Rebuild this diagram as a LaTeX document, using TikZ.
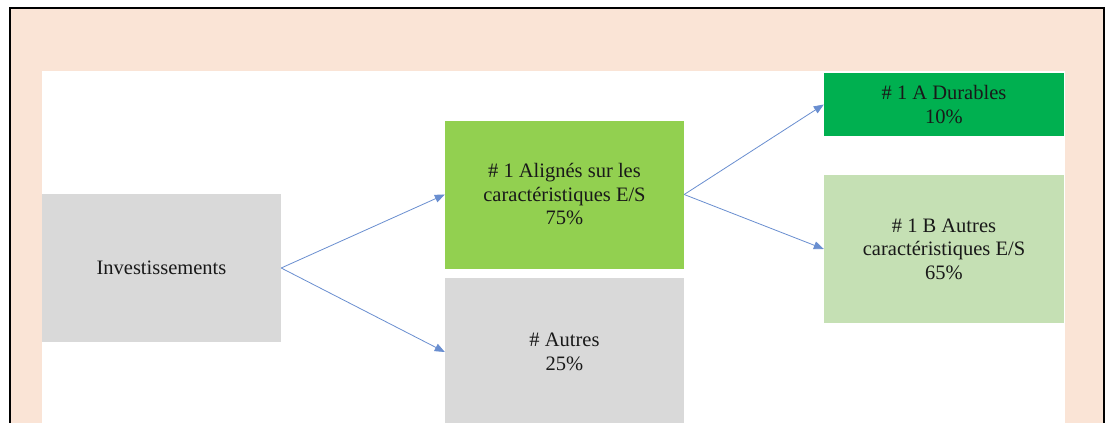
\documentclass[tikz,border=0pt]{standalone}
\usepackage{fontspec}
\setmainfont{Liberation Serif}
\usetikzlibrary{arrows.meta, positioning}

\definecolor{peach}{HTML}{FAE4D6}
\definecolor{boxgray}{HTML}{D9D9D9}
\definecolor{lightgreen}{HTML}{92D050}
\definecolor{darkgreen}{HTML}{00B050}
\definecolor{palegreen}{HTML}{C5E0B4}
\definecolor{arrowblue}{HTML}{4472C4}

\tikzset{
    catbox/.style={minimum width=239pt, minimum height=148pt, align=center,
        inner sep=4pt, font=\fontsize{20.5}{23.5}\selectfont, text=black!90},
    link/.style={draw=arrowblue!80, line width=0.8pt, -{Triangle[length=10pt,width=8pt]}}
}

\begin{document}
\begin{tikzpicture}[x=1pt, y=-1pt]
    \clip (0,0) rectangle (1109,423);
    \useasboundingbox (0,0) rectangle (1109,423);

    % Frame
    \fill[peach] (10,8) rectangle (1104,430);
    \draw[line width=2pt] (10,430) -- (10,8) -- (1104,8) -- (1104,430);
    \fill[white] (42,71) rectangle (1065,430);

    % Boxes
    \node[catbox, fill=boxgray] (invest) at (161.5,268) {Investissements};
    \node[catbox, fill=lightgreen] (aligned) at (564.5,194.5)
        {\# 1 Alignés sur les\\caractéristiques E/S\\75\%};
    \node[catbox, fill=boxgray] (others) at (564.5,352) {\# Autres\\25\%};
    \node[catbox, fill=darkgreen, minimum width=240pt, minimum height=63pt] (durable) at (944,104.5)
        {\# 1 A Durables\\10\%};
    \node[catbox, fill=palegreen, minimum width=240pt] (otherchar) at (944,249)
        {\# 1 B Autres\\caractéristiques E/S\\65\%};

    % Links
    \draw[link] (invest.east) -- (aligned.west);
    \draw[link] (invest.east) -- (others.west);
    \draw[link] (aligned.east) -- (durable.west);
    \draw[link] (aligned.east) -- (otherchar.west);
\end{tikzpicture}
\end{document}
